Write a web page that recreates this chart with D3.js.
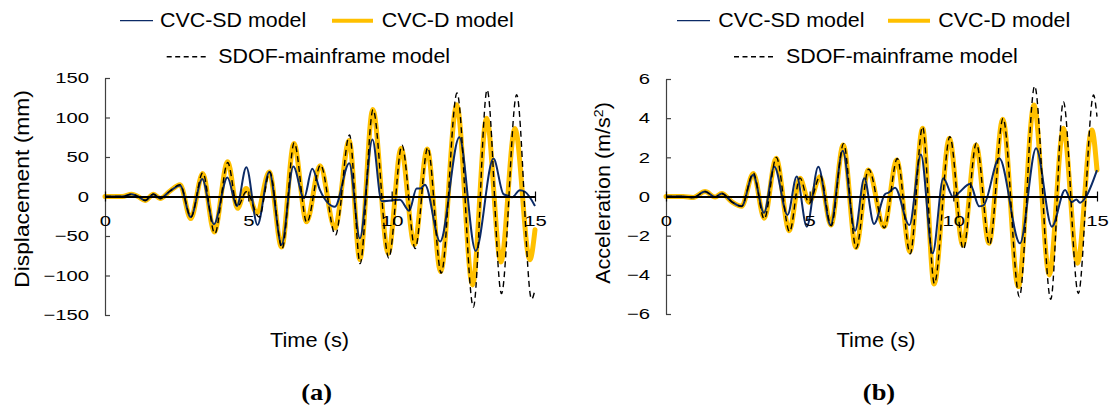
<!DOCTYPE html>
<html>
<head>
<meta charset="utf-8">
<script src="https://cdn.jsdelivr.net/npm/d3@7"></script>
<style>
  html, body { margin: 0; padding: 0; background: #fff; }
  svg { display: block; font-family: "Liberation Sans", Arial, sans-serif; }
  .tick text { font-family: "Liberation Sans", Arial, sans-serif; font-size: 15px; fill: #000; transform-box: fill-box; }
  .yax .tick text { transform-origin: 100% 50%; transform: scaleX(1.35); }
  .xax .tick text { transform-origin: 50% 50%; transform: scaleX(1.35); }
</style>
</head>
<body>
<svg id="chart" width="1112" height="412"></svg>
<script>
// ---- time axis ----
const timeTicks = [0, 5, 10, 15];

// ---- (a) displacement, mm : [time s, value] ----
const dispTicks = [-150, -100, -50, 0, 50, 100, 150];

const dispSD = [
  [0,0],[0.6,0],[0.93,3],[1.15,0],[1.4,-5],[1.69,3],[1.92,-2.5],[2.27,7],[2.62,14],
  [2.99,-26],[3.39,22],[3.8,-35],[4.27,24],[4.6,-12],[4.93,37],[5.32,-36],[5.73,31],
  [6.16,-61],[6.57,38],[6.94,-2],[7.23,35],[7.5,8],[8.02,-13],[8.52,42],[8.89,-53],
  [9.33,72],[9.65,-6],[10.0,-5],[10.29,-4],[10.61,-18],[10.87,10],[11.0,10],[11.16,15],
  [11.69,-57],[12.36,75],[12.93,-69],[13.55,48],[13.9,3],[14.05,1],[14.2,-1],[14.47,8],
  [14.65,6],[15.0,-12]
];

const dispD = [
  [0,0],[0.6,0],[0.93,3],[1.15,0],[1.4,-5],[1.69,3],[1.92,-2.5],[2.27,7],[2.62,15],
  [2.99,-28],[3.41,29],[3.81,-45],[4.28,44],[4.62,-15],[4.92,10],[5.3,-21],[5.73,31],
  [6.16,-64],[6.59,67],[7.03,-32],[7.5,39],[8.02,-40],[8.52,71],[8.89,-80],[9.34,110],
  [9.88,-72],[10.33,61],[10.79,-61],[11.24,60],[11.71,-95],[12.27,116],[12.82,-112],
  [13.31,99],[13.81,-83],[14.3,86],[14.82,-80],[15.0,-42]
];

const dispSDOF = [
  [0,0],[0.6,0],[0.93,3],[1.15,0],[1.4,-5],[1.69,3],[1.92,-2.5],[2.27,7],[2.62,15],
  [3.0,-26],[3.41,30],[3.83,-47],[4.28,43],[4.62,-13],[4.93,6],[5.38,-26],[5.75,31],
  [6.18,-66],[6.6,68],[7.04,-33],[7.52,40],[8.04,-49],[8.53,78],[8.9,-85],[9.35,110],
  [9.9,-78],[10.36,65],[10.82,-66],[11.26,62],[11.73,-97],[12.28,131],[12.85,-140],
  [13.33,135],[13.83,-123],[14.36,129],[14.88,-130],[15.0,-118]
];

// ---- (b) acceleration, m/s² : [time s, value] ----
const accTicks = [-6, -4, -2, 0, 2, 4, 6];

const accSD = [
  [0,0],[0.6,0],[0.95,-0.05],[1.36,0.25],[1.71,-0.03],[1.94,0.15],[2.29,-0.27],[2.63,-0.5],
  [3.03,1.1],[3.41,-0.83],[3.77,1.52],[4.23,-0.94],[4.55,1.02],[4.9,-1.54],[5.3,1.52],
  [5.73,-1.46],[6.15,2.34],[6.58,-1.75],[6.9,0.93],[7.24,-1.4],[7.62,0.12],[7.75,0.2],
  [7.97,0.45],[8.47,-1.46],[8.87,2.15],[9.28,-2.9],[9.65,0.93],[10.0,-0.04],[10.2,0.2],
  [10.58,0.64],[10.9,-0.5],[11.05,-0.45],[11.6,1.95],[12.32,-2.39],[12.88,2.46],
  [13.43,-1.54],[13.89,0.33],[14.12,-0.28],[14.28,-0.15],[14.41,-0.32],[14.6,-0.05],[15.0,1.35]
];

const accD = [
  [0,0],[0.6,0],[0.95,-0.05],[1.36,0.25],[1.71,-0.03],[1.94,0.15],[2.29,-0.27],[2.63,-0.5],
  [3.04,1.18],[3.42,-1.11],[3.83,1.95],[4.29,-1.75],[4.66,0.93],[4.98,-0.3],[5.36,1.01],
  [5.74,-1.46],[6.17,2.63],[6.61,-2.6],[7.04,1.35],[7.59,-1.54],[8.03,1.86],[8.49,-2.82],
  [8.93,3.48],[9.33,-4.47],[9.86,2.97],[10.33,-2.48],[10.79,2.63],[11.24,-2.39],
  [11.72,3.94],[12.26,-4.6],[12.81,4.67],[13.34,-4.01],[13.83,3.48],[14.32,-3.41],
  [14.82,3.4],[15.0,1.35]
];

const accSDOF = [
  [0,0],[0.6,0],[0.95,-0.05],[1.36,0.25],[1.71,-0.03],[1.94,0.15],[2.29,-0.27],[2.63,-0.5],
  [3.04,1.2],[3.42,-1.15],[3.84,2.0],[4.3,-1.8],[4.66,0.95],[4.98,-0.35],[5.37,1.05],
  [5.75,-1.5],[6.18,2.7],[6.62,-2.64],[7.05,1.4],[7.6,-1.6],[8.05,1.94],[8.5,-2.93],
  [8.93,3.56],[9.34,-4.44],[9.88,3.05],[10.35,-2.7],[10.8,2.72],[11.26,-2.47],
  [11.73,3.99],[12.3,-5.12],[12.83,5.64],[13.39,-5.25],[13.83,4.84],[14.35,-4.95],
  [14.88,5.18],[15.0,4.08]
];

const seriesNames = ["CVC-SD model", "CVC-D model", "SDOF-mainframe model"];
const panelLabels = ["(a)", "(b)"];

// ---- styling ----
const COL_SD = "#0B2A66";
const COL_D = "#FFC000";
const COL_SDOF = "#000000";

const svg = d3.select("#chart");

const panels = [
  {
    data: { sd: dispSD, d: dispD, sdof: dispSDOF },
    yTicks: dispTicks, yDomain: [-150, 150],
    xRange: [105, 535], yRange: [315, 78],
    yTitle: { text: "Displacement (mm)", sup: null, x: 29.3, y: 189, sx: 1.14 },
    xTitle: { x: 309.5, y: 346.7 },
    label: { text: panelLabels[0], x: 316.7 },
    legend: { sd: [120, 153], sdText: 160, d: [332, 373], dText: 381.7, dash: [166.7, 206], dashText: 218.3 }
  },
  {
    data: { sd: accSD, d: accD, sdof: accSDOF },
    yTicks: accTicks, yDomain: [-6, 6],
    xRange: [666, 1097], yRange: [314, 79],
    yTitle: { text: "Acceleration (m/s", sup: "2", tail: ")", x: 609.5, y: 193, sx: 1.08 },
    xTitle: { x: 876, y: 346.7 },
    label: { text: panelLabels[1], x: 879 },
    legend: { sd: [677, 710], sdText: 718.3, d: [888, 930], dText: 938.3, dash: [734, 773.3], dashText: 786 }
  }
];

function drawPanel(p) {
  const x = d3.scaleLinear().domain([0, 15]).range(p.xRange);
  const y = d3.scaleLinear().domain(p.yDomain).range(p.yRange);
  const g = svg.append("g");

  const line = d3.line()
    .x(d => x(d[0]))
    .y(d => y(d[1]))
    .curve(d3.curveMonotoneX);

  // response histories
  g.append("path").datum(p.data.d)
    .attr("d", line).attr("fill", "none")
    .attr("stroke", COL_D).attr("stroke-width", 5)
    .attr("stroke-linejoin", "round").attr("stroke-linecap", "round");

  g.append("path").datum(p.data.sd)
    .attr("d", line).attr("fill", "none")
    .attr("stroke", COL_SD).attr("stroke-width", 2)
    .attr("stroke-linejoin", "round");

  g.append("path").datum(p.data.sdof)
    .attr("d", line).attr("fill", "none")
    .attr("stroke", COL_SDOF).attr("stroke-width", 1.4)
    .attr("stroke-dasharray", "6,4");

  // vertical axis, inside ticks
  const gy = g.append("g")
    .attr("class", "yax")
    .attr("transform", `translate(${p.xRange[0]},0)`)
    .call(d3.axisLeft(y).tickValues(p.yTicks).tickSizeInner(-5).tickSizeOuter(0).tickPadding(16));
  gy.select(".domain").attr("stroke", "#404040").attr("stroke-width", 1.2);
  gy.selectAll(".tick line").attr("stroke", "#404040").attr("stroke-width", 1.2);

  // time axis through zero, cross ticks
  const gx = g.append("g")
    .attr("class", "xax")
    .attr("transform", `translate(0,${y(0)})`)
    .call(d3.axisBottom(x).tickValues(timeTicks).tickSizeInner(5).tickSizeOuter(0).tickPadding(13.5));
  gx.select(".domain").attr("stroke", "#000").attr("stroke-width", 1.8);
  gx.selectAll(".tick line").attr("y1", -5).attr("y2", 5).attr("stroke", "#000").attr("stroke-width", 1.2);

  // axis titles
  const yt = svg.append("text")
    .attr("transform", `translate(${p.yTitle.x},${p.yTitle.y}) rotate(-90) scale(${p.yTitle.sx},1)`)
    .attr("text-anchor", "middle")
    .attr("font-size", 20).attr("fill", "#000");
  yt.append("tspan").text(p.yTitle.text);
  if (p.yTitle.sup) {
    yt.append("tspan").attr("baseline-shift", "super").attr("font-size", 13).text(p.yTitle.sup);
    yt.append("tspan").text(p.yTitle.tail);
  }

  svg.append("text")
    .attr("transform", `translate(${p.xTitle.x},${p.xTitle.y}) scale(1.09,1)`)
    .attr("text-anchor", "middle")
    .attr("font-size", 20).attr("fill", "#000")
    .text("Time (s)");

  // panel label
  svg.append("text")
    .attr("transform", `translate(${p.label.x},399.5) scale(1.15,1)`)
    .attr("text-anchor", "middle")
    .attr("font-family", "'Liberation Serif', 'Times New Roman', serif")
    .attr("font-weight", "bold")
    .attr("font-size", 23).attr("fill", "#000")
    .text(p.label.text);

  // legend
  const L = p.legend;
  const lg = svg.append("g");
  lg.append("line").attr("x1", L.sd[0]).attr("x2", L.sd[1]).attr("y1", 20.7).attr("y2", 20.7)
    .attr("stroke", COL_SD).attr("stroke-width", 1.3);
  lg.append("line").attr("x1", L.d[0]).attr("x2", L.d[1]).attr("y1", 20.7).attr("y2", 20.7)
    .attr("stroke", COL_D).attr("stroke-width", 4);
  lg.append("line").attr("x1", L.dash[0]).attr("x2", L.dash[1]).attr("y1", 56.7).attr("y2", 56.7)
    .attr("stroke", COL_SDOF).attr("stroke-width", 1.4).attr("stroke-dasharray", "5,3.5");

  const legText = [
    [L.sdText, 27.3, seriesNames[0]],
    [L.dText, 27.3, seriesNames[1]],
    [L.dashText, 63.3, seriesNames[2]]
  ];
  legText.forEach(([tx, ty, s]) => {
    lg.append("text")
      .attr("transform", `translate(${tx},${ty}) scale(1.07,1)`)
      .attr("font-size", 20).attr("fill", "#000")
      .text(s);
  });
}

panels.forEach(drawPanel);
</script>
</body>
</html>
